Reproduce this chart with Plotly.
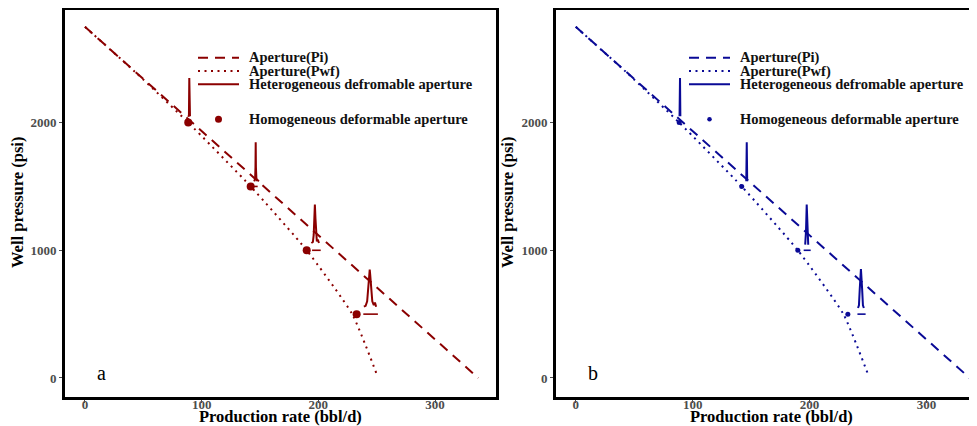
import plotly.graph_objects as go

# ---------------- data ----------------
pi_rate = [0, 337]
pi_pressure = [2750, 0]

pwf_rate = [0, 45, 88.5, 142, 190, 229, 250]
pwf_pressure = [2750, 2380, 2000, 1500, 1000, 500, 30]

homo_rate = [88.5, 142, 190, 232.8]
homo_pressure = [2000, 1500, 1000, 500]

# heterogeneous deformable aperture: rate/pressure outlines (panel a)
het_a_rate = [
    [88.7, 89.1, 89.4, 89.7, 90.0],
    [145.0, 145.8, 146.1, 146.3, 146.5, 146.9, 148.0, 149.0],
    [194.0, 195.3, 196.0, 196.5, 197.0, 197.5, 198.0, 198.7, 199.5, 200.5],
    [239.0, 240.5, 241.8, 242.8, 243.6, 244.0, 244.4, 245.2, 246.2, 247.5, 248.5, 249.5],
]
het_a_pressure = [
    [2045, 2060, 2350, 2060, 2050],
    [1540, 1560, 1650, 1846, 1650, 1560, 1548, 1540],
    [1057, 1065, 1120, 1250, 1358, 1250, 1120, 1070, 1085, 1057],
    [558, 565, 600, 700, 810, 849, 810, 700, 600, 570, 590, 558],
]
base_a_rate = [[143.0, 148.0], [194.6, 202.0], [238.5, 251.0]]
base_a_pressure = [[1500, 1500], [1000, 1000], [500, 500]]

# panel b
het_b_rate = [
    [88.8, 89.2, 89.5],
    [145.9, 146.3, 146.7],
    [196.3, 197.0, 197.6, 198.2, 198.9],
    [241.5, 242.3, 243.0, 244.0, 245.0, 245.7, 246.5],
]
het_b_pressure = [
    [2050, 2350, 2050],
    [1540, 1846, 1540],
    [1044, 1150, 1358, 1150, 1044],
    [548, 570, 700, 854, 700, 570, 548],
]
base_b_rate = [[195.0, 201.0], [241.0, 248.0]]
base_b_pressure = [[1000, 1000], [500, 500]]

x_ticks = [0, 100, 200, 300]
y_ticks = [0, 1000, 2000]
legend_labels = ["Aperture(Pi)", "Aperture(Pwf)", "Heterogeneous defromable aperture",
                 "Homogeneous deformable aperture"]

RED = "#8B0000"
BLUE = "#0A0A96"
OFF = 8                      # page body margin of the exported html
W, H = 977 - OFF, 426 - OFF
SERIF = "Liberation Serif"
DASH = "10px,7px"
DOT = "2px,4.5px"


def px(x):
    return (x - OFF) / W


def py(y):
    return 1 - (y - OFF) / H


fig = go.Figure()


def add_panel(color, xa, ya, het_r, het_p, base_r, base_p, dot_size):
    fig.add_trace(go.Scatter(x=pi_rate, y=pi_pressure, mode="lines", xaxis=xa, yaxis=ya,
                             line=dict(color=color, width=2, dash=DASH), showlegend=False))
    fig.add_trace(go.Scatter(x=pwf_rate, y=pwf_pressure, mode="lines", xaxis=xa, yaxis=ya,
                             line=dict(color=color, width=2, dash=DOT, shape="spline",
                                       smoothing=0.5), showlegend=False))
    for r, p in zip(het_r, het_p):
        fig.add_trace(go.Scatter(x=r, y=p, mode="lines", xaxis=xa, yaxis=ya,
                                 line=dict(color=color, width=2), showlegend=False))
    for r, p in zip(base_r, base_p):
        fig.add_trace(go.Scatter(x=r, y=p, mode="lines", xaxis=xa, yaxis=ya,
                                 line=dict(color=color, width=1.6), showlegend=False))
    fig.add_trace(go.Scatter(x=homo_rate, y=homo_pressure, mode="markers", xaxis=xa, yaxis=ya,
                             marker=dict(color=color, size=dot_size), showlegend=False))


add_panel(RED, "x", "y", het_a_rate, het_a_pressure, base_a_rate, base_a_pressure, 8)
add_panel(BLUE, "x2", "y2", het_b_rate, het_b_pressure, base_b_rate, base_b_pressure, 5)

tickfont = dict(family=SERIF, size=13, color="#4D4D4D", weight="bold")
common_x = dict(tickvals=x_ticks, ticks="outside", ticklen=3, tickcolor="#4D4D4D",
                showgrid=False, zeroline=False, showline=True, linewidth=3, linecolor="black",
                mirror=True, tickfont=tickfont, ticklabelstandoff=-10)
common_y = dict(tickvals=y_ticks, ticks="outside", ticklen=3, tickcolor="#4D4D4D",
                showgrid=False, zeroline=False, showline=True, linewidth=3, linecolor="black",
                tickfont=tickfont, range=[-149, 2882])

fig.update_layout(
    width=W, height=H, margin=dict(l=0, r=0, t=0, b=0),
    paper_bgcolor="white", plot_bgcolor="white", showlegend=False,
    xaxis=dict(domain=[px(65), px(496)], range=[-17.1, 352.2], anchor="y", **common_x),
    yaxis=dict(domain=[py(397), py(10)], anchor="x", mirror=True, **common_y),
    xaxis2=dict(domain=[px(556), 1.0], range=[-16.9, 343.3], anchor="y2", **common_x),
    yaxis2=dict(domain=[py(397), py(10)], anchor="x2", mirror=False, **common_y),
)

shapes = []
annotations = []


def legend(color, x0, dot_size):
    rows = [57.7, 71.0, 84.3, 119.3]
    dashes = [DASH, DOT, "solid"]
    for row, d in zip(rows[:3], dashes):
        shapes.append(dict(type="line", xref="paper", yref="paper", x0=px(x0), x1=px(x0 + 41),
                           y0=py(row), y1=py(row), line=dict(color=color, width=2, dash=d)))
    cx = x0 + 20.5
    r = dot_size / 2
    shapes.append(dict(type="circle", xref="paper", yref="paper", x0=px(cx - r), x1=px(cx + r),
                       y0=py(rows[3] + r), y1=py(rows[3] - r), fillcolor=color,
                       line=dict(color=color, width=0)))
    for row, lab in zip(rows, legend_labels):
        annotations.append(dict(text=lab, xref="paper", yref="paper", x=px(x0 + 50), y=py(row),
                                xanchor="left", yanchor="middle", showarrow=False, borderpad=0,
                                font=dict(family=SERIF, size=14.5, color="#111111", weight="bold")))


legend(RED, 198, 7)
legend(BLUE, 689, 4.5)

title_font = dict(family=SERIF, size=16.5, color="black", weight="bold")
for cx in [280.7, 771.7]:
    annotations.append(dict(text="Production rate (bbl/d)", xref="paper", yref="paper",
                            x=px(cx), y=py(416.5), xanchor="center", yanchor="middle",
                            showarrow=False, borderpad=0, font=title_font))
for cx in [18, 508]:
    annotations.append(dict(text="Well pressure (psi)", xref="paper", yref="paper",
                            x=px(cx), y=py(203), xanchor="center", yanchor="middle",
                            textangle=-90, showarrow=False, borderpad=0, font=title_font))
for lab, cx in [("a", 101), ("b", 593)]:
    annotations.append(dict(text=lab, xref="paper", yref="paper", x=px(cx), y=py(373),
                            xanchor="center", yanchor="middle", showarrow=False,
                            font=dict(family=SERIF, size=20, color="black")))

fig.update_layout(shapes=shapes, annotations=annotations)
fig.write_html("out.html")
